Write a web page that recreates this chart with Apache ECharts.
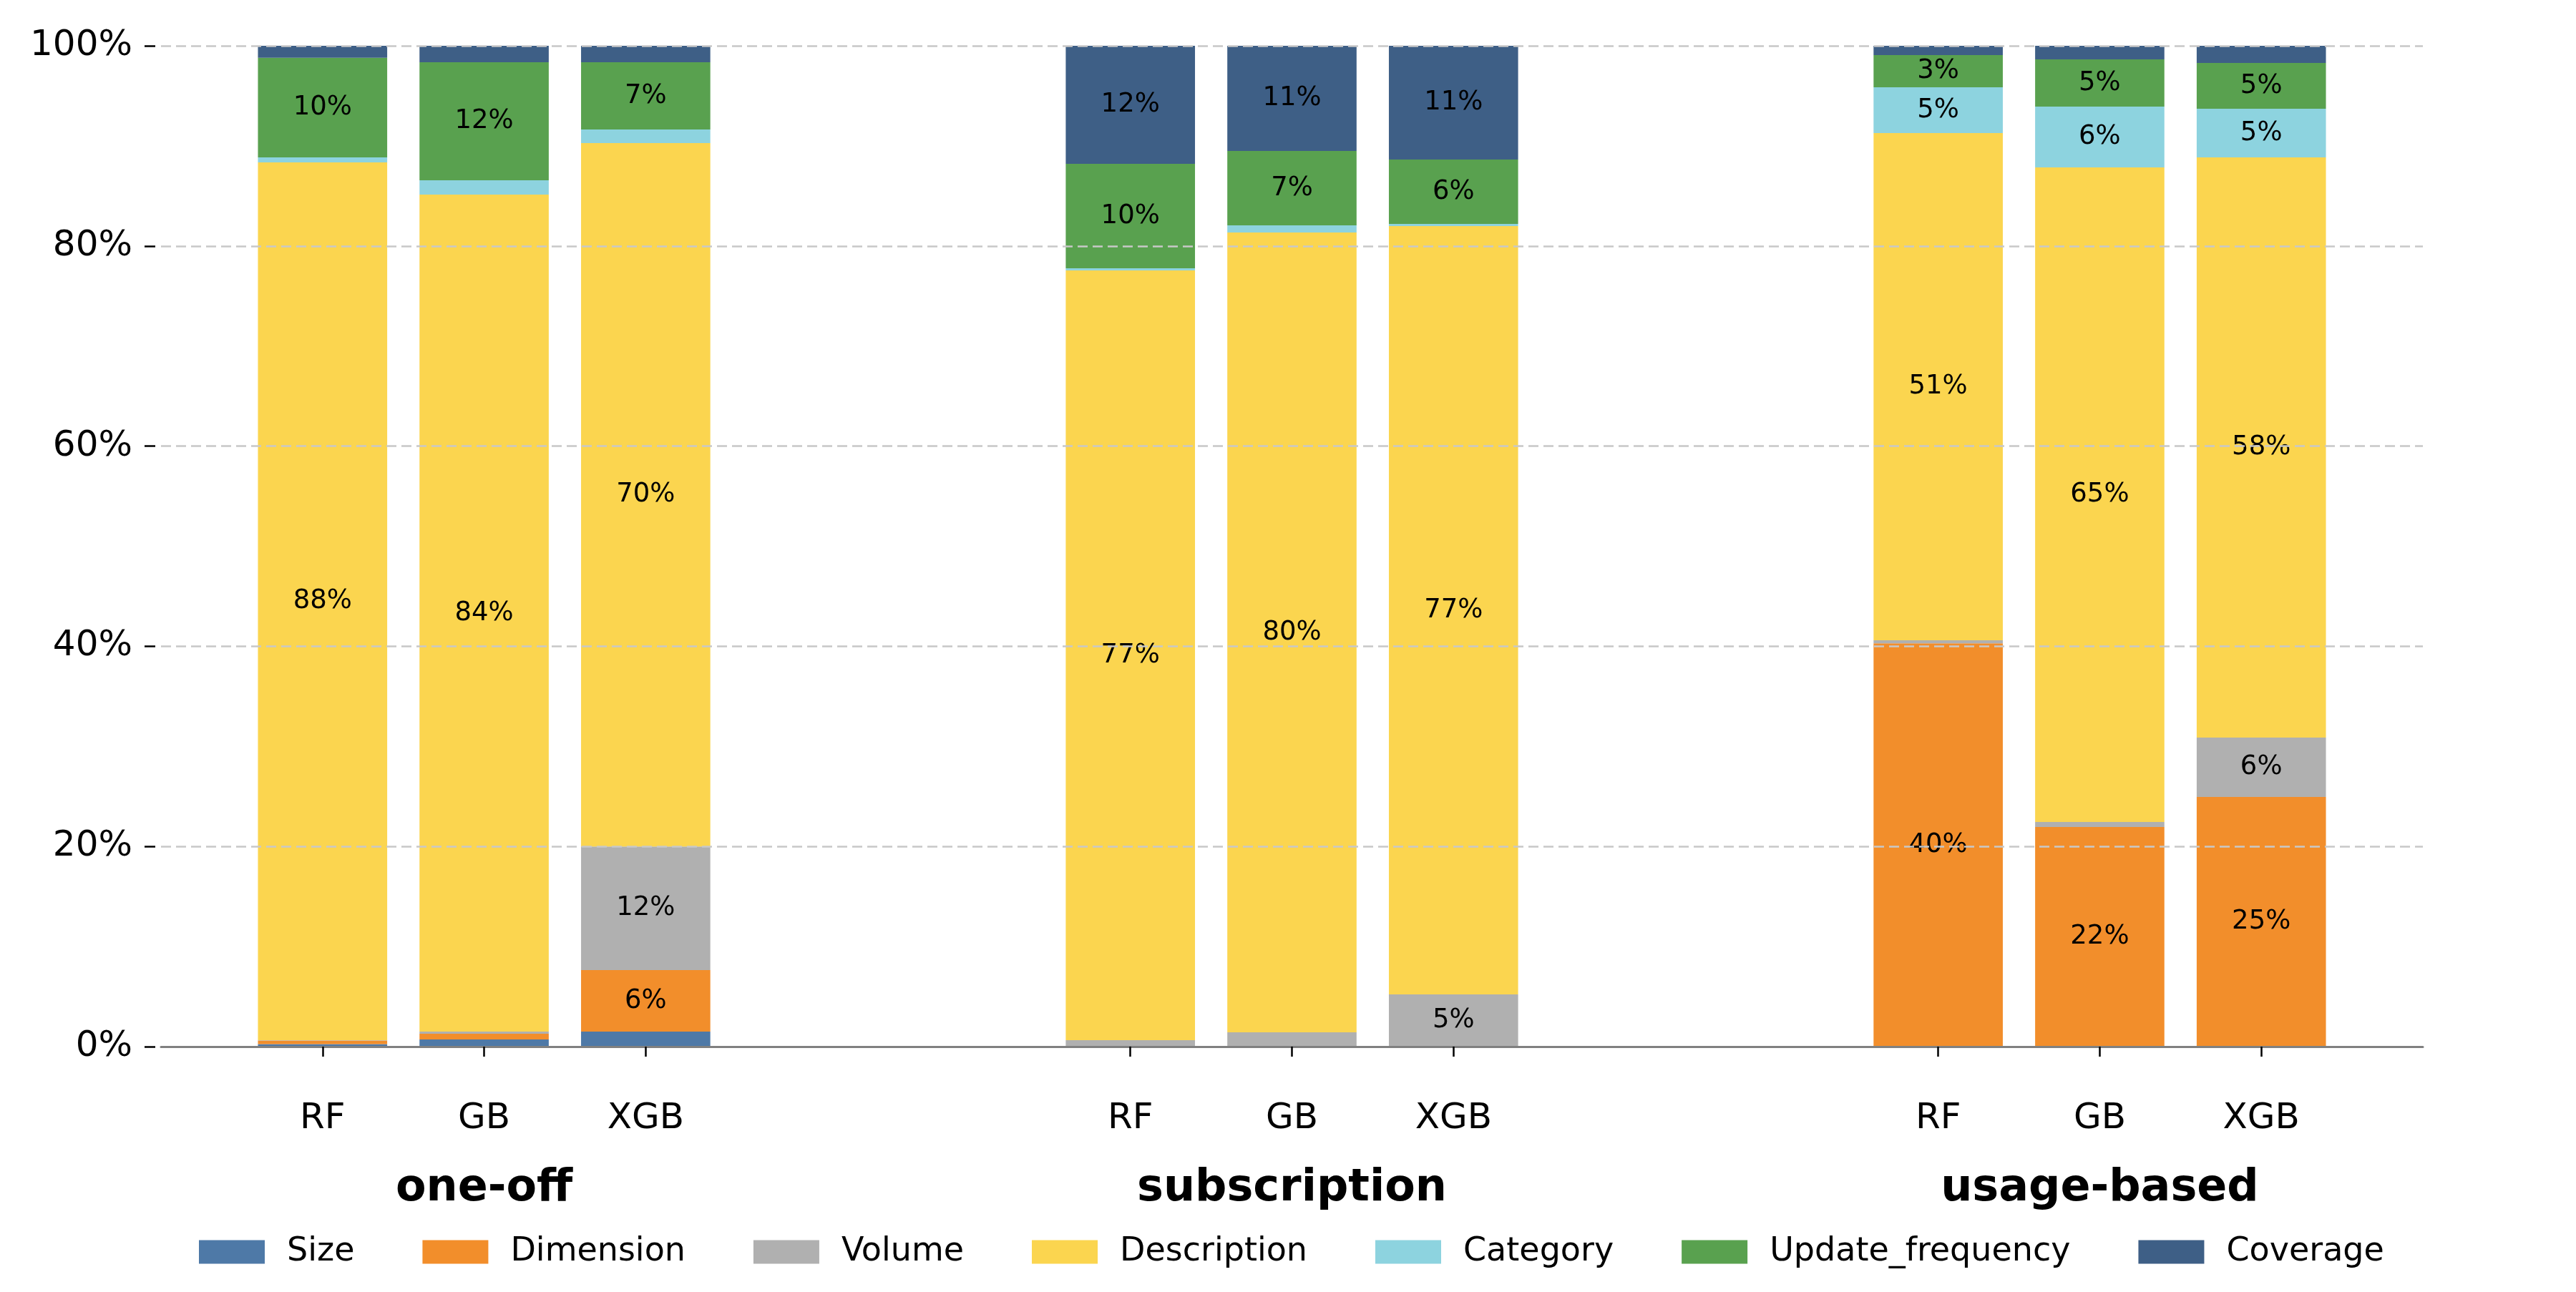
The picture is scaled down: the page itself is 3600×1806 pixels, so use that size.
<!DOCTYPE html>
<html>
<head>
<meta charset="utf-8">
<script src="https://cdn.jsdelivr.net/npm/echarts@6/dist/echarts.min.js"></script>
<style>
  html, body { margin: 0; padding: 0; background: #ffffff; }
  #chart { width: 3600px; height: 1806px; }
</style>
</head>
<body>
<div id="chart"></div>
<script>
// Stacked share of feature importance per pricing model and learner.

const groups = ["one-off", "subscription", "usage-based"];
const models = ["RF", "GB", "XGB"];

// order: one-off RF/GB/XGB, subscription RF/GB/XGB, usage-based RF/GB/XGB
const size = [0.25, 0.71, 1.5, 0, 0, 0, 0, 0, 0];
const dimension = [0.35, 0.58, 6.15, 0, 0, 0, 40.3, 21.94, 24.95];
const volume = [0.05, 0.21, 12.35, 0.64, 1.43, 5.22, 0.3, 0.51, 5.93];
const description = [87.7, 83.63, 70.28, 76.92, 79.91, 76.77, 50.68, 65.4, 57.97];
const category = [0.5, 1.43, 1.36, 0.21, 0.72, 0.21, 4.57, 6.07, 4.86];
const updateFrequency = [9.95, 11.8, 6.72, 10.43, 7.43, 6.43, 3.22, 4.72, 4.57];
const coverage = [1.2, 1.64, 1.64, 11.8, 10.51, 11.37, 0.93, 1.36, 1.72];

const yTicks = [0, 20, 40, 60, 80, 100];

const features = [
  { name: "Size", values: size, color: "#4e79a7" },
  { name: "Dimension", values: dimension, color: "#f28e2b" },
  { name: "Volume", values: volume, color: "#b0b0b0" },
  { name: "Description", values: description, color: "#fbd54f" },
  { name: "Category", values: category, color: "#8dd3df" },
  { name: "Update_frequency", values: updateFrequency, color: "#59a14f" },
  { name: "Coverage", values: coverage, color: "#3e5f86" }
];

// slots on the x axis: empty slot on each side and two between groups
const slotCount = groups.length * models.length + 2 * (groups.length - 1) + 2;
const modelSlots = [];
const groupSlots = [];
groups.forEach((g, gi) => {
  const start = 1 + gi * (models.length + 2);
  models.forEach((m, mi) => modelSlots.push(start + mi));
  groupSlots.push(start + Math.floor(models.length / 2));
});

const modelCats = new Array(slotCount).fill("");
const groupCats = new Array(slotCount).fill("");
modelSlots.forEach((s, i) => { modelCats[s] = models[i % models.length]; });
groupSlots.forEach((s, i) => { groupCats[s] = groups[i]; });

function toSlots(values) {
  const out = new Array(slotCount).fill(null);
  modelSlots.forEach((s, i) => { out[s] = values[i]; });
  return out;
}

const font = "DejaVu Sans";
const chart = echarts.init(document.getElementById("chart"), null, { renderer: "canvas" });

chart.setOption({
  animation: false,
  backgroundColor: "#ffffff",
  textStyle: { fontFamily: font },
  grid: { left: 225, right: 214, top: 64, bottom: 343, containLabel: false },
  legend: {
    left: 273,
    top: 1722,
    itemWidth: 92,
    itemHeight: 33,
    itemGap: 95,
    icon: "rect",
    selectedMode: false,
    textStyle: { fontFamily: font, fontSize: 46, color: "#000", padding: [0, 0, 0, 26] },
    data: features.map((f) => f.name)
  },
  xAxis: [
    {
      type: "category",
      data: modelCats,
      boundaryGap: false,
      z: 3,
      axisLine: { show: true, lineStyle: { color: "#808080", width: 3 } },
      axisTick: {
        show: true,
        length: 14,
        interval: (idx, val) => val !== "",
        lineStyle: { color: "#000", width: 2.5 }
      },
      axisLabel: { interval: 0, margin: 76, fontSize: 50, color: "#000", fontFamily: font },
      splitLine: { show: false }
    },
    {
      type: "category",
      data: groupCats,
      boundaryGap: false,
      position: "bottom",
      axisLine: { show: false },
      axisTick: { show: false },
      axisLabel: { interval: 0, margin: 168, fontSize: 62, fontWeight: "bold", color: "#000", fontFamily: font },
      splitLine: { show: false }
    }
  ],
  yAxis: {
    type: "value",
    min: yTicks[0],
    max: yTicks[yTicks.length - 1],
    interval: yTicks[1] - yTicks[0],
    offset: 8,
    z: 3,
    axisLine: { show: false },
    axisTick: { show: true, length: 15, lineStyle: { color: "#000", width: 2.5 } },
    axisLabel: { margin: 32, fontSize: 50, color: "#000", fontFamily: font, formatter: "{value}%" },
    splitLine: { show: true, lineStyle: { color: "#c8c8c8", width: 2.5, type: [14, 7] } }
  },
  series: features.map((f) => ({
    name: f.name,
    type: "bar",
    stack: "share",
    xAxisIndex: 0,
    barWidth: "80%",
    itemStyle: { color: f.color },
    label: {
      show: true,
      position: "inside",
      color: "#000",
      fontSize: 37,
      fontFamily: font,
      textBorderWidth: 0,
      formatter: (p) => (p.value != null && p.value >= 2.5 ? Math.round(p.value) + "%" : "")
    },
    data: toSlots(f.values)
  }))
});
</script>
</body>
</html>
